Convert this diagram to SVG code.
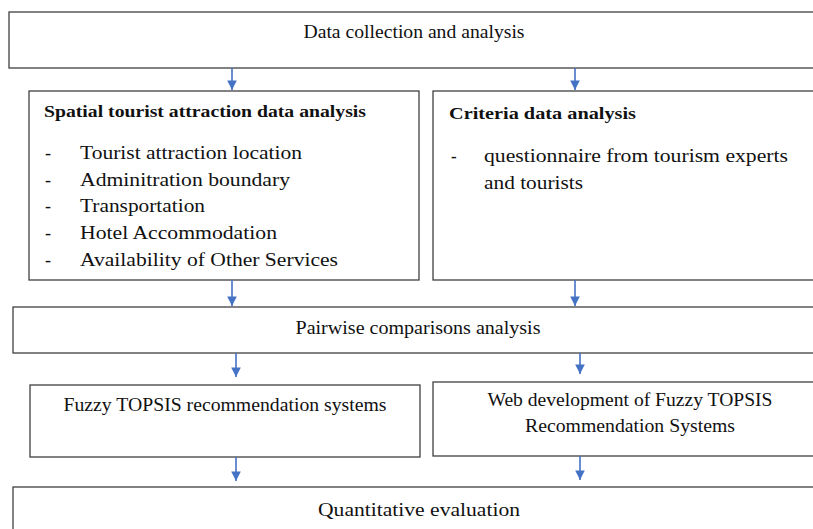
<svg xmlns="http://www.w3.org/2000/svg" width="813" height="529" viewBox="0 0 813 529">
  <style>
    .box { fill: #ffffff; stroke: #404040; stroke-width: 1.3; }
    text { font-family: 'Liberation Serif', 'Times New Roman', Tinos, 'DejaVu Serif', serif; font-size: 18px; fill: #111111; }
    .c { text-anchor: middle; }
    .b { font-weight: bold; font-size: 17px; }
    .arrow { stroke: #4472C4; stroke-width: 1.6; fill: none; marker-end: url(#head); }
  </style>
  <defs>
    <marker id="head" viewBox="0 0 10 10" refX="10" refY="5" markerWidth="6" markerHeight="6" markerUnits="strokeWidth" orient="auto">
      <path d="M0,0 L10,5 L0,10 Z" fill="#4472C4"/>
    </marker>
  </defs>
  <rect width="813" height="529" fill="#ffffff"/>

  <g id="data-collection">
    <rect class="box" x="9" y="12" width="820" height="56"/>
    <text class="c" x="414" y="38" textLength="221" lengthAdjust="spacingAndGlyphs">Data collection and analysis</text>
  </g>

  <g id="spatial-analysis">
    <rect class="box" x="29" y="91" width="390" height="189"/>
    <text class="b" x="44" y="117" textLength="322" lengthAdjust="spacingAndGlyphs">Spatial tourist attraction data analysis</text>
    <text x="45" y="159">-</text>
    <text x="80" y="159" textLength="222" lengthAdjust="spacingAndGlyphs">Tourist attraction location</text>
    <text x="45" y="186">-</text>
    <text x="80" y="186" textLength="210" lengthAdjust="spacingAndGlyphs">Adminitration boundary</text>
    <text x="45" y="212">-</text>
    <text x="80" y="212" textLength="125" lengthAdjust="spacingAndGlyphs">Transportation</text>
    <text x="45" y="239">-</text>
    <text x="80" y="239" textLength="197" lengthAdjust="spacingAndGlyphs">Hotel Accommodation</text>
    <text x="45" y="266">-</text>
    <text x="80" y="266" textLength="258" lengthAdjust="spacingAndGlyphs">Availability of Other Services</text>
  </g>

  <g id="criteria-analysis">
    <rect class="box" x="433" y="91" width="400" height="189"/>
    <text class="b" x="449" y="119" textLength="187" lengthAdjust="spacingAndGlyphs">Criteria data analysis</text>
    <text class="b" x="451" y="162">-</text>
    <text x="484" y="162" textLength="304" lengthAdjust="spacingAndGlyphs">questionnaire from tourism experts</text>
    <text x="484" y="189" textLength="99" lengthAdjust="spacingAndGlyphs">and tourists</text>
  </g>

  <g id="pairwise">
    <rect class="box" x="13" y="307" width="820" height="46"/>
    <text class="c" x="418" y="334" textLength="245" lengthAdjust="spacingAndGlyphs">Pairwise comparisons analysis</text>
  </g>

  <g id="fuzzy-topsis">
    <rect class="box" x="30" y="385" width="390" height="72"/>
    <text class="c" x="225" y="411" textLength="323" lengthAdjust="spacingAndGlyphs">Fuzzy TOPSIS recommendation systems</text>
  </g>

  <g id="web-development">
    <rect class="box" x="433" y="382" width="400" height="74"/>
    <text class="c" x="630" y="406" textLength="285" lengthAdjust="spacingAndGlyphs">Web development of Fuzzy TOPSIS</text>
    <text class="c" x="630" y="432" textLength="210" lengthAdjust="spacingAndGlyphs">Recommendation Systems</text>
  </g>

  <g id="quantitative-evaluation">
    <rect class="box" x="13" y="487" width="820" height="60"/>
    <text class="c" x="419" y="516" textLength="202" lengthAdjust="spacingAndGlyphs">Quantitative evaluation</text>
  </g>

  <g id="connectors">
    <line class="arrow" x1="232" y1="68" x2="232" y2="90"/>
    <line class="arrow" x1="575" y1="68" x2="575" y2="90"/>
    <line class="arrow" x1="232" y1="280" x2="232" y2="306"/>
    <line class="arrow" x1="575" y1="280" x2="575" y2="306"/>
    <line class="arrow" x1="236" y1="353" x2="236" y2="377"/>
    <line class="arrow" x1="580" y1="353" x2="580" y2="374"/>
    <line class="arrow" x1="236" y1="457" x2="236" y2="481"/>
    <line class="arrow" x1="580" y1="456" x2="580" y2="480"/>
  </g>
</svg>
